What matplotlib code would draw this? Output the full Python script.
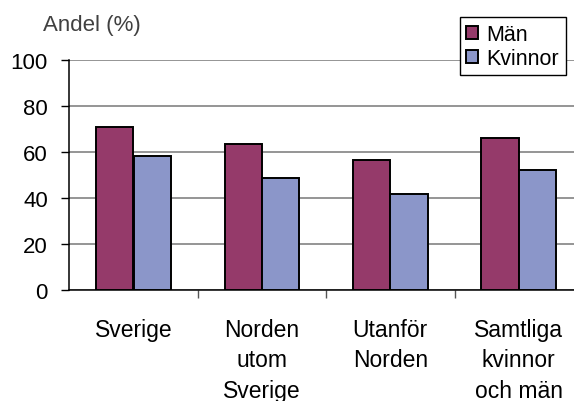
import matplotlib
matplotlib.use("Agg")
import matplotlib.pyplot as plt
import numpy as np

plt.rcParams['font.family'] = ['Liberation Sans', 'DejaVu Sans']

categories = ["Sverige", "Norden\nutom\nSverige", "Utanför\nNorden", "Samtliga\nkvinnor\noch män"]
man = [71.0, 63.3, 56.5, 66.0]
kvinnor = [58.1, 48.7, 41.7, 52.2]
series_labels = ["Män", "Kvinnor"]
yticks = [0, 20, 40, 60, 80, 100]
ylabel = "Andel (%)"

fig = plt.figure(figsize=(5.74, 4.02), dpi=100)
ax = fig.add_axes([0.1207, 0.2761, 0.895, 0.5722])

x = np.arange(len(categories))
w = 0.29
off = 0.146
ax.bar(x - off, man, w, color='#953a6a', edgecolor='black', linewidth=1.4,
       label=series_labels[0], zorder=3)
ax.bar(x + off, kvinnor, w, color='#8b96c9', edgecolor='black', linewidth=1.4,
       label=series_labels[1], zorder=3)

ax.set_xlim(-0.5, len(categories) - 0.5)
ax.set_ylim(0, 100)
ax.set_yticks(yticks)
ax.yaxis.grid(True, color='#787878', linewidth=1.1, zorder=0)
ax.set_axisbelow(True)

ax.set_xticks(x)
ax.set_xticklabels(categories, fontsize=16.5, linespacing=1.42)
ax.set_xticks(np.arange(len(categories)) + 0.5, minor=True)
ax.tick_params(axis='x', which='major', length=0, pad=20)
ax.tick_params(axis='x', which='minor', length=6, width=1, color='#555555', direction='out')
ax.tick_params(axis='y', length=5.5, width=1, color='black', pad=10, labelsize=16)

for s in ['top', 'right']:
    ax.spines[s].set_visible(False)
ax.spines['left'].set_color('black')
ax.spines['bottom'].set_color('black')
ax.spines['left'].set_linewidth(1.1)
ax.spines['bottom'].set_linewidth(1.1)

fig.text(43 / 574, 1 - 25 / 402, ylabel, fontsize=16, color='#404040',
         ha='left', va='center')

leg = ax.legend(loc='upper right', bbox_to_anchor=(0.9663, 1.186), borderaxespad=0,
                fontsize=15.5, frameon=True, fancybox=False, shadow=False,
                handlelength=0.55, handleheight=0.55, handletextpad=0.4,
                labelspacing=0.15, borderpad=0.3)
leg.get_frame().set_edgecolor('black')
leg.get_frame().set_linewidth(1.0)
leg.get_frame().set_alpha(1)

fig.savefig("out.png", dpi=100)
